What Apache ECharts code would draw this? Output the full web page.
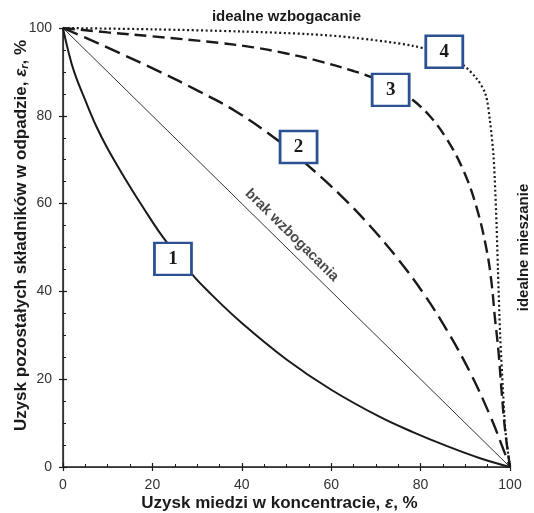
<!DOCTYPE html>
<html><head><meta charset="utf-8">
<script src="https://cdn.jsdelivr.net/npm/echarts@6/dist/echarts.min.js"></script>
<style>html,body{margin:0;padding:0;background:#fff}#c{width:534px;height:513px}</style>
</head><body><div id="c"></div>
<script>
// Curve 1 (solid)
const curve1 = [[0,100],[1,95.5],[2.5,90],[5,83.5],[7.5,77.5],[10,72.5],[14,65.5],[18,59],[22.4,52.3],[28.8,44],[33,39.5],[40,32.8],[50,24.5],[60,17.6],[70.9,11.4],[78.4,7.9],[85.8,4.8],[93.3,2],[100,0]];
// Curve 2 (long dashes)
const curve2 = [[0,100],[5,97.8],[10.5,95.3],[21.7,90],[30,85.8],[38.5,81.1],[47.8,74.6],[54.9,68.6],[62,62],[68.7,54.9],[75,47.3],[80.6,39.6],[85.8,31.3],[91,21.7],[95.5,11.8],[98.9,3],[100,0]];
// Curve 3 (dashes)
const curve3 = [[0,100],[10,99],[20,98.1],[35,96.6],[42.6,95.6],[50,94.2],[57.5,92.4],[65,90.2],[69,88.8],[74,86.5],[78,83.8],[82,80],[85.8,74.8],[89.6,67.5],[92.5,59.2],[94.8,49.3],[95.9,41.7],[96.6,34.2],[97.4,26.6],[98.1,17.5],[98.9,8.4],[100,0]];
// Curve 4 (dotted)
const curve4 = [[0,100],[20,99.7],[40,99.2],[55,98.6],[65,97.8],[78,96],[84,94.3],[89,92],[92.5,88.5],[94.5,85],[95.5,79],[96.3,71],[96.7,63],[97,55],[97.3,45],[97.8,30],[98.4,18],[99,8],[100,0]];
// No enrichment line
const noEnrich = [[0,100],[100,0]];
// Curve number boxes [x, y, label]
const boxes = [[24.6,47.4,'1'],[52.7,72.9,'2'],[73.3,85.9,'3'],[85.3,94.6,'4']];
// Diagonal caption position
const diagText = [[51.2,52.8,'brak wzbogacania']];

const F = 'Liberation Sans, Arial, sans-serif';
const ink = '#1a1a1a';
const chart = echarts.init(document.getElementById('c'));
const bold = {fontFamily:F,fontWeight:'bold',fontSize:17,color:ink};
chart.setOption({
  animation:false,
  grid:{left:63,right:24,top:28,bottom:46,outerBoundsMode:'none',containLabel:false},
  xAxis:[
    {type:'value',min:0,max:100,interval:20,position:'bottom',
     axisLine:{lineStyle:{color:ink,width:1.5}},
     axisTick:{inside:true,length:4,lineStyle:{color:ink,width:1.2}},
     minorTick:{show:true,splitNumber:4,length:3,lineStyle:{color:ink,width:1}},
     splitLine:{show:false},
     axisLabel:{margin:11,fontFamily:F,fontSize:14,color:'#333'},
     name:'{b|Uzysk miedzi w koncentracie, }{i|ε}{b|, %}',nameLocation:'middle',nameGap:28,nameMoveOverlap:false,
     nameTextStyle:{padding:[0,14,0,0],rich:{b:bold,i:Object.assign({},bold,{fontStyle:'italic'})}}},
    {type:'value',min:0,max:100,interval:20,position:'top',
     axisLine:{lineStyle:{color:'#333',width:1.2}},axisTick:{show:false},axisLabel:{show:false},splitLine:{show:false},
     name:'idealne wzbogacanie',nameLocation:'middle',nameGap:4,
     nameTextStyle:{fontFamily:F,fontWeight:'bold',fontSize:15,color:ink}},
    {type:'value',min:0,max:100,interval:20,position:'bottom',
     axisLine:{show:false},axisTick:{inside:false,length:4,lineStyle:{color:ink,width:1.2}},
     axisLabel:{show:false},splitLine:{show:false}}
  ],
  yAxis:[
    {type:'value',min:0,max:100,interval:20,position:'left',
     axisLine:{lineStyle:{color:ink,width:1.5}},
     axisTick:{inside:true,length:4,lineStyle:{color:ink,width:1.2}},
     minorTick:{show:true,splitNumber:4,length:3,lineStyle:{color:ink,width:1}},
     splitLine:{show:false},
     axisLabel:{margin:11,fontFamily:F,fontSize:14,color:'#333'},
     name:'{b|Uzysk pozostałych składników w odpadzie, }{i|ε}{s|r}{b|, %}',nameLocation:'middle',nameGap:33,nameRotate:90,nameMoveOverlap:false,
     nameTextStyle:{padding:[0,0,0,24],rich:{b:bold,i:Object.assign({},bold,{fontStyle:'italic'}),
       s:Object.assign({},bold,{fontSize:11,fontStyle:'italic',padding:[7,0,0,0]})}}},
    {type:'value',min:0,max:100,interval:20,position:'right',
     axisLine:{show:true,lineStyle:{color:'#333',width:1.2}},axisTick:{show:false},axisLabel:{show:false},splitLine:{show:false},
     name:'idealne mieszanie',nameLocation:'middle',nameGap:6,nameRotate:90,
     nameTextStyle:{fontFamily:F,fontWeight:'bold',fontSize:15,color:ink}},
    {type:'value',min:0,max:100,interval:20,position:'left',
     axisLine:{show:false},axisTick:{inside:false,length:4,lineStyle:{color:ink,width:1.2}},
     axisLabel:{show:false},splitLine:{show:false}}
  ],
  series:[
    {type:'line',data:noEnrich,symbol:'none',lineStyle:{color:'#333',width:1}},
    {type:'line',data:curve1,symbol:'none',smooth:0.4,lineStyle:{color:ink,width:2}},
    {type:'line',data:curve2,symbol:'none',smooth:0.4,lineStyle:{color:ink,width:2.4,type:[16,7]}},
    {type:'line',data:curve3,symbol:'none',smooth:0.4,lineStyle:{color:ink,width:2.4,type:[12,6]}},
    {type:'line',data:curve4,symbol:'none',smooth:0.3,lineStyle:{color:ink,width:2.2,type:[2,2.6]}},
    {type:'scatter',data:diagText,symbolSize:0,z:5,
     label:{show:true,position:'inside',rotate:-44.6,formatter:p=>p.value[2],fontFamily:F,fontWeight:'bold',fontSize:14.5,color:ink}},
    {type:'scatter',data:boxes,symbol:'rect',symbolSize:[37,32],z:10,
     itemStyle:{color:'#fff',borderColor:'#2a5193',borderWidth:2.6,opacity:1},
     label:{show:true,position:'inside',formatter:p=>p.value[2],fontFamily:'Liberation Serif, Times New Roman, serif',fontWeight:'bold',fontSize:19,color:ink}}
  ]
});
</script></body></html>
